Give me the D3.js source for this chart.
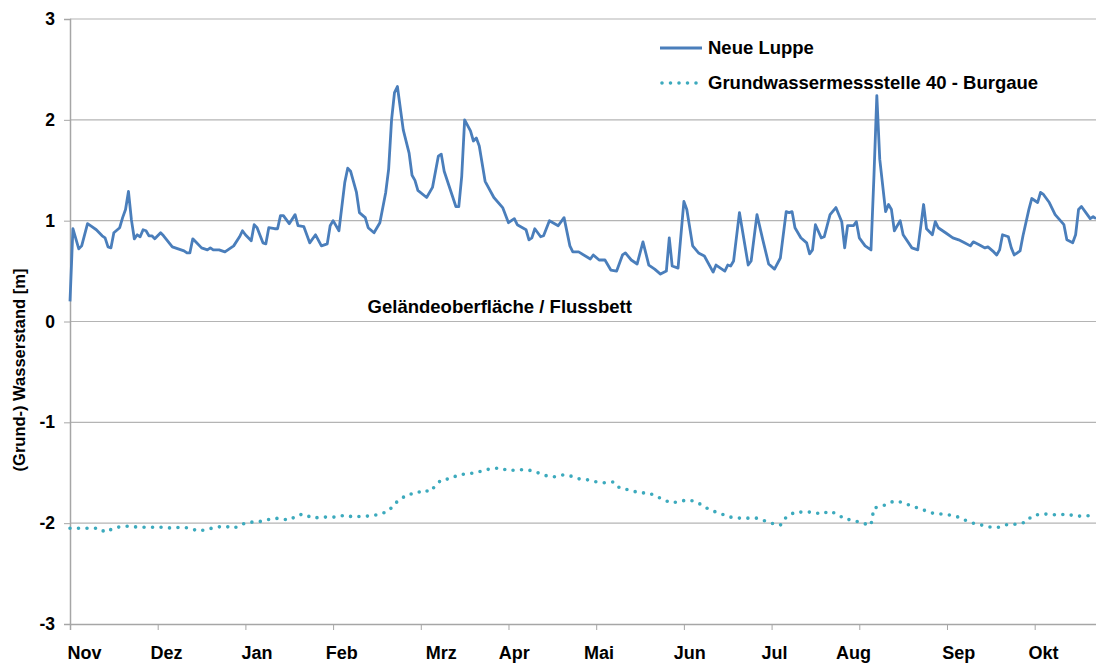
<!DOCTYPE html>
<head>
  <meta charset="utf-8">
  <title>Wasserstand Neue Luppe / Burgaue</title>
  <script src="https://d3js.org/d3.v7.min.js"></script>
  <style>
    body { margin:0; background:#fff; }
    svg { display:block; font-family:"Liberation Sans", Arial, sans-serif; font-weight:bold; }
  </style>
</head>
<body>
  <svg width="1096" height="664"></svg>
  <script>
    // days since 1 Nov, level in m
    var luppeDays = [0,1,3,4,6,7,9,11,12,13,14,15,17,18,19,20,21,22,23,24,25,26,27,28,29,31,32,35,37,39,40,41,42,43,45,47,48,49,51,53,54,56,58,59,60,62,63,64,66,67,68,70,71,72,73,75,77,78,80,82,84,86,88,89,90,92,94,95,96,98,99,101,102,104,106,108,109,110,111,112,114,116,117,118,119,122,124,126,127,128,132,133,134,135,137,138,139,140,142,145,148,150,152,153,156,157,158,159,161,162,164,167,169,171,172,174,178,179,181,183,185,187,189,190,192,194,196,198,200,202,204,205,206,208,210,211,213,215,217,220,221,224,225,226,227,229,232,233,235,237,239,241,243,245,246,247,248,250,252,253,254,255,257,258,260,262,264,265,266,268,269,270,272,274,275,276,277,279,280,281,282,284,285,288,290,292,293,295,296,297,299,300,302,304,306,308,309,311,313,314,316,317,318,319,321,322,323,325,326,328,329,331,332,333,335,337,340,341,343,344,345,346,348,349,350,351];
    var luppeLevels = [0.20,0.92,0.72,0.75,0.97,0.95,0.91,0.85,0.83,0.74,0.73,0.88,0.93,1.03,1.11,1.29,1.01,0.82,0.86,0.84,0.91,0.90,0.85,0.85,0.82,0.88,0.85,0.74,0.72,0.70,0.68,0.68,0.82,0.79,0.73,0.71,0.73,0.71,0.71,0.69,0.71,0.75,0.84,0.90,0.86,0.80,0.96,0.93,0.78,0.77,0.93,0.92,0.92,1.05,1.05,0.97,1.06,0.95,0.94,0.78,0.86,0.75,0.77,0.95,1.00,0.90,1.38,1.52,1.49,1.28,1.08,1.03,0.93,0.88,0.98,1.28,1.51,2.00,2.27,2.33,1.90,1.67,1.45,1.40,1.30,1.23,1.33,1.64,1.66,1.49,1.14,1.14,1.44,2.00,1.89,1.79,1.82,1.74,1.39,1.23,1.13,0.98,1.02,0.96,0.91,0.81,0.83,0.92,0.84,0.85,1.00,0.95,1.03,0.75,0.69,0.69,0.62,0.66,0.61,0.61,0.51,0.50,0.66,0.68,0.61,0.57,0.79,0.56,0.52,0.47,0.50,0.83,0.55,0.53,1.19,1.11,0.75,0.68,0.65,0.49,0.56,0.50,0.56,0.55,0.60,1.08,0.56,0.60,1.06,0.81,0.57,0.52,0.63,1.09,1.08,1.09,0.93,0.83,0.78,0.67,0.71,0.96,0.83,0.84,1.06,1.13,0.99,0.73,0.95,0.95,0.99,0.83,0.75,0.71,1.43,2.24,1.61,1.09,1.16,1.11,0.90,1.00,0.86,0.73,0.71,1.16,0.92,0.86,0.99,0.93,0.89,0.87,0.83,0.81,0.78,0.75,0.79,0.76,0.73,0.74,0.69,0.66,0.71,0.86,0.84,0.73,0.66,0.70,0.85,1.11,1.22,1.18,1.28,1.26,1.18,1.06,0.96,0.81,0.78,0.86,1.11,1.14,1.06,1.02,1.04,1.02];

    var gwDays = [0,10,12,15,18,21,23,26,29,32,35,38,41,44,47,50,53,56,59,61,64,67,70,73,75,78,80,83,86,89,91,94,97,100,103,106,109,111,113,116,118,121,123,125,127,130,133,136,139,142,145,147,150,153,156,158,161,164,166,169,171,174,177,180,183,186,188,191,195,198,201,204,206,209,212,215,217,220,223,226,229,232,235,238,241,243,245,248,251,254,257,260,263,265,268,271,274,275,278,281,283,286,289,292,295,298,301,304,307,309,312,315,318,321,324,327,329,332,335,338,341,344,347,350];
    var gwLevels = [-2.05,-2.05,-2.09,-2.05,-2.03,-2.03,-2.04,-2.04,-2.04,-2.04,-2.05,-2.04,-2.05,-2.08,-2.06,-2.04,-2.03,-2.05,-2.01,-1.99,-1.99,-1.97,-1.95,-1.96,-1.97,-1.92,-1.91,-1.95,-1.94,-1.94,-1.94,-1.92,-1.94,-1.93,-1.93,-1.91,-1.88,-1.81,-1.76,-1.71,-1.71,-1.67,-1.69,-1.63,-1.57,-1.56,-1.52,-1.51,-1.50,-1.47,-1.46,-1.45,-1.48,-1.47,-1.47,-1.48,-1.51,-1.54,-1.54,-1.52,-1.53,-1.56,-1.57,-1.59,-1.60,-1.59,-1.65,-1.67,-1.70,-1.70,-1.74,-1.78,-1.80,-1.78,-1.77,-1.80,-1.84,-1.88,-1.91,-1.94,-1.95,-1.95,-1.95,-1.98,-2.01,-2.02,-1.94,-1.89,-1.89,-1.89,-1.91,-1.88,-1.92,-1.96,-1.97,-2.00,-2.02,-1.85,-1.83,-1.79,-1.78,-1.81,-1.84,-1.87,-1.90,-1.91,-1.92,-1.94,-1.98,-2.00,-2.02,-2.04,-2.04,-2.01,-2.01,-1.99,-1.93,-1.91,-1.91,-1.92,-1.91,-1.93,-1.93,-1.92];

    var monthLabels = ['Nov','Dez','Jan','Feb','Mrz','Apr','Mai','Jun','Jul','Aug','Sep','Okt'];
    var monthTickDays = [0,30,60,90,120,150,180,210,240,270,300,330];
    var monthLabelDays = [5,33,64,93,127,152,181,212,241,268,304,333];
    var yTicks = [-3,-2,-1,0,1,2,3];
    var seriesNames = ['Neue Luppe','Grundwassermessstelle 40 - Burgaue'];
    var annotation = {text:'Geländeoberfläche / Flussbett', day:147, level:0.15};

    var width = 1096, height = 664;
    var margin = {top: 19, left: 70, bottom: 40};
    var blue = '#4a7ebb', teal = '#3caabd';

    var svg = d3.select('svg');

    var xScale = d3.scaleLinear()
      .domain([0, 365])
      .range([margin.left, 1137]);
    var yScale = d3.scaleLinear()
      .domain([-3, 3])
      .range([height - margin.bottom, margin.top]);

    // gridlines
    svg.append('g')
      .selectAll('line')
      .data(yTicks.filter(d => d > -3))
      .join('line')
      .attr('x1', margin.left).attr('x2', width)
      .attr('y1', d => yScale(d)).attr('y2', d => yScale(d))
      .attr('stroke', '#b4b4b4').attr('stroke-width', 1.2);

    // y axis
    var yAxis = d3.axisLeft(yScale)
      .tickValues(yTicks)
      .tickSize(6)
      .tickPadding(9)
      .tickFormat(d => String(d)); // plain hyphen minus like the original
    var gy = svg.append('g')
      .attr('transform', 'translate(' + margin.left + ',0)')
      .call(yAxis);
    gy.select('.domain').attr('stroke', '#a6a6a6').attr('stroke-width', 1.5);
    gy.selectAll('.tick line').attr('stroke', '#a6a6a6');
    gy.selectAll('.tick text')
      .attr('font-size', 17.5).attr('font-weight', 'bold')
      .attr('font-family', '"Liberation Sans", Arial, sans-serif')
      .attr('fill', '#000');

    // x axis
    var xAxis = d3.axisBottom(xScale)
      .tickValues(monthTickDays)
      .tickSize(6)
      .tickFormat('');
    var gx = svg.append('g')
      .attr('transform', 'translate(0,' + yScale(-3) + ')')
      .call(xAxis);
    gx.select('.domain').attr('stroke', '#a6a6a6').attr('stroke-width', 1.5);
    gx.selectAll('.tick line').attr('stroke', '#a6a6a6');

    svg.append('g')
      .selectAll('text')
      .data(monthLabels)
      .join('text')
      .attr('x', (d, i) => xScale(monthLabelDays[i]))
      .attr('y', 659)
      .attr('text-anchor', 'middle')
      .attr('font-size', 18)
      .text(d => d);

    // y title
    svg.append('text')
      .attr('transform', 'translate(25,370) rotate(-90)')
      .attr('text-anchor', 'middle')
      .attr('font-size', 16.5)
      .text('(Grund-) Wasserstand [m]');

    // series
    var luppe = luppeDays.map((d, i) => [d, luppeLevels[i]]);
    var gw = gwDays.map((d, i) => [d, gwLevels[i]]);
    var line = d3.line()
      .x(d => xScale(d[0]))
      .y(d => yScale(d[1]));

    svg.append('path')
      .attr('d', line(gw))
      .attr('fill', 'none')
      .attr('stroke', teal)
      .attr('stroke-width', 3.6)
      .attr('stroke-linecap', 'round')
      .attr('stroke-dasharray', '0,8.5');

    svg.append('path')
      .attr('d', line(luppe))
      .attr('fill', 'none')
      .attr('stroke', blue)
      .attr('stroke-width', 2.8)
      .attr('stroke-linejoin', 'round');

    // annotation
    svg.append('text')
      .attr('x', xScale(annotation.day))
      .attr('y', yScale(annotation.level))
      .attr('dy', '0.35em')
      .attr('text-anchor', 'middle')
      .attr('font-size', 18.5)
      .text(annotation.text);

    // legend
    var legend = svg.append('g').attr('transform', 'translate(660,48)');
    legend.append('line')
      .attr('x1', 0).attr('x2', 42).attr('y1', 0).attr('y2', 0)
      .attr('stroke', blue).attr('stroke-width', 2.8);
    legend.append('line')
      .attr('x1', 2).attr('x2', 44).attr('y1', 35).attr('y2', 35)
      .attr('stroke', teal).attr('stroke-width', 3.6)
      .attr('stroke-linecap', 'round').attr('stroke-dasharray', '0,8.5');
    legend.selectAll('text')
      .data(seriesNames)
      .join('text')
      .attr('x', 48)
      .attr('y', (d, i) => i * 35)
      .attr('dy', '0.35em')
      .attr('font-size', 18.5)
      .text(d => d);
  </script>
</body>
